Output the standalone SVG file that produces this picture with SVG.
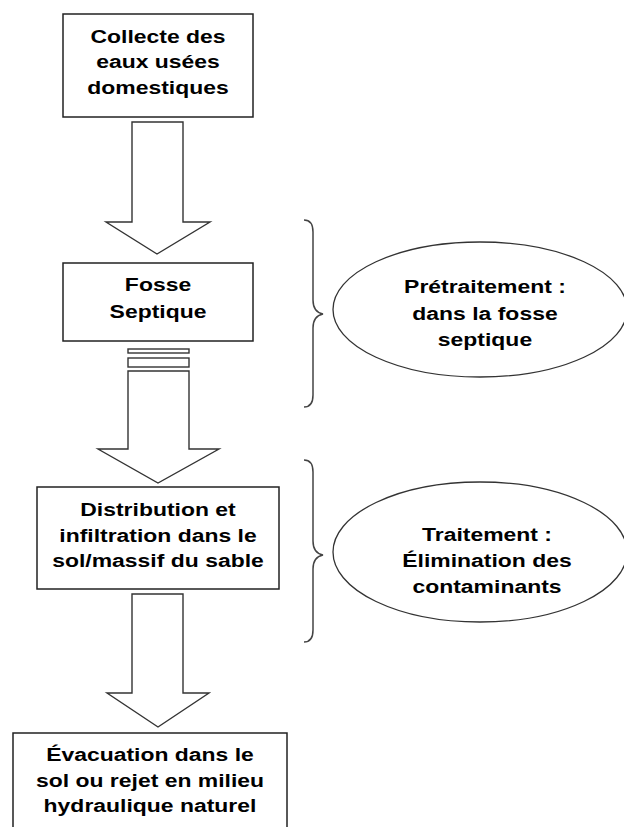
<svg xmlns="http://www.w3.org/2000/svg" width="624" height="827" viewBox="0 0 624 827">
<style>
.box{fill:#fff;stroke:#222;stroke-width:1.5}
.arr{fill:#fff;stroke:#333;stroke-width:1.4;stroke-linejoin:miter}
.ell{fill:#fff;stroke:#333;stroke-width:1.3}
.brace{fill:none;stroke:#444;stroke-width:1.5}
text{font-family:"Liberation Sans",Arial,sans-serif;font-weight:bold;font-size:18.5px;fill:#000;text-anchor:middle}
</style>
<rect width="624" height="827" fill="#fff"/>
<g id="connectors">
<path class="arr" d="M132,122 L183,122 L183,222 L210,222 L157,254 L106,222 L132,222 Z"/>
<rect class="arr" x="128" y="349" width="61" height="4"/>
<rect class="arr" x="128" y="358" width="61" height="9"/>
<path class="arr" d="M128,371 L189,371 L189,449 L219,449 L158,483 L98,449 L128,449 Z"/>
<path class="arr" d="M132,594 L183,594 L183,693 L209,693 L158,727 L107,693 L132,693 Z"/>
<path class="brace" d="M304,220 Q313,220 313,232 L313,300 Q313,312 323,314 Q313,316 313,328 L313,395 Q313,407 304,407"/>
<path class="brace" d="M304,460 Q313,460 313,472 L313,541 Q313,553 323,555 Q313,557 313,569 L313,630 Q313,642 304,642"/>
</g>
<g id="collecte">
<rect class="box" x="63" y="14" width="190" height="103"/>
<text transform="translate(158,42.7) scale(1.24,1)">Collecte des</text>
<text transform="translate(158,68.3) scale(1.24,1)">eaux usées</text>
<text transform="translate(158,94) scale(1.24,1)">domestiques</text>
</g>
<g id="fosse">
<rect class="box" x="63" y="263" width="190" height="78"/>
<text transform="translate(158,290.7) scale(1.24,1)">Fosse</text>
<text transform="translate(158,318) scale(1.24,1)">Septique</text>
</g>
<g id="distribution">
<rect class="box" x="37" y="487" width="242" height="102"/>
<text transform="translate(158,516) scale(1.24,1)">Distribution et</text>
<text transform="translate(158,541.7) scale(1.24,1)">infiltration dans le</text>
<text transform="translate(158,567.3) scale(1.24,1)">sol/massif du sable</text>
</g>
<g id="evacuation">
<rect class="box" x="13" y="733" width="274" height="110"/>
<text transform="translate(150,760.7) scale(1.24,1)">Évacuation dans le</text>
<text transform="translate(150,786.7) scale(1.24,1)">sol ou rejet en milieu</text>
<text transform="translate(150,811.7) scale(1.24,1)">hydraulique naturel</text>
</g>
<g id="pretraitement">
<ellipse class="ell" cx="480" cy="309.5" rx="147" ry="67.5"/>
<text transform="translate(485,293.3) scale(1.24,1)">Prétraitement :</text>
<text transform="translate(485,320) scale(1.24,1)">dans la fosse</text>
<text transform="translate(485,345.5) scale(1.24,1)">septique</text>
</g>
<g id="traitement">
<ellipse class="ell" cx="480" cy="552" rx="147" ry="70"/>
<text transform="translate(487,540.7) scale(1.24,1)">Traitement :</text>
<text transform="translate(487,567.3) scale(1.24,1)">Élimination des</text>
<text transform="translate(487,593.3) scale(1.24,1)">contaminants</text>
</g>
</svg>
